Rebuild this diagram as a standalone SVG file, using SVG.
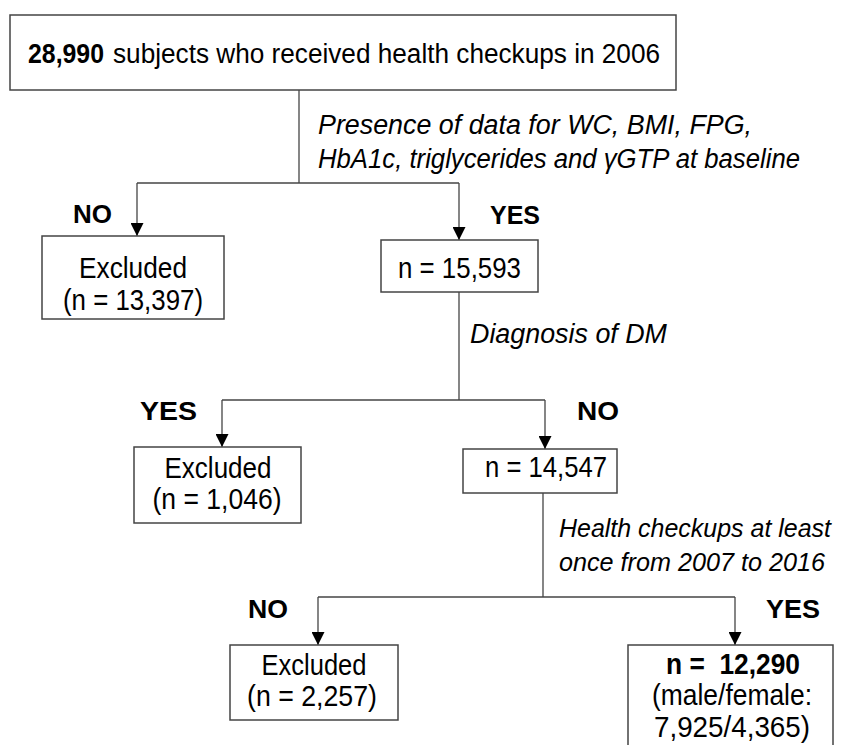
<svg xmlns="http://www.w3.org/2000/svg" width="845" height="745" viewBox="0 0 845 745">
<defs>
<marker id="ah" viewBox="0 0 10 10" refX="10" refY="5" markerWidth="13" markerHeight="13" markerUnits="userSpaceOnUse" orient="auto">
<path d="M0,0 L10,5 L0,10 z" fill="#000"/>
</marker>
<style>
.box{fill:#fff;stroke:#444;stroke-width:1.5}
.t{font-family:"Liberation Sans",Arial,sans-serif;font-size:29px;fill:#000;text-anchor:middle}
.tl{font-family:"Liberation Sans",Arial,sans-serif;font-size:27px;fill:#000}
.lbl{font-family:"Liberation Sans",Arial,sans-serif;font-size:27px;font-style:italic;fill:#000}
.lbs{font-family:"Liberation Sans",Arial,sans-serif;font-size:25px;font-style:italic;fill:#000}
.yn{font-family:"Liberation Sans",Arial,sans-serif;font-size:26px;font-weight:bold;fill:#000}
.ln{fill:none;stroke:#444;stroke-width:1.3}
</style>
</defs>
<rect width="845" height="745" fill="#fff"/>
<g id="connectors">
<path class="ln" d="M299,90 V183"/>
<path class="ln" d="M137,183 H459"/>
<path class="ln" d="M137,183 V236" marker-end="url(#ah)"/>
<path class="ln" d="M459,183 V240" marker-end="url(#ah)"/>
<path class="ln" d="M459,292 V400"/>
<path class="ln" d="M222,400 H545"/>
<path class="ln" d="M222,400 V447" marker-end="url(#ah)"/>
<path class="ln" d="M545,400 V449" marker-end="url(#ah)"/>
<path class="ln" d="M543,493 V597"/>
<path class="ln" d="M318,597 H735"/>
<path class="ln" d="M318,597 V645" marker-end="url(#ah)"/>
<path class="ln" d="M735,597 V645" marker-end="url(#ah)"/>
<text class="lbl" x="318" y="134" textLength="434" lengthAdjust="spacingAndGlyphs">Presence of data for WC, BMI, FPG,</text>
<text class="lbl" x="318" y="168" textLength="482" lengthAdjust="spacingAndGlyphs">HbA1c, triglycerides and γGTP at baseline</text>
<text class="yn" x="73" y="223" textLength="39" lengthAdjust="spacingAndGlyphs">NO</text>
<text class="yn" x="490" y="224" textLength="50" lengthAdjust="spacingAndGlyphs">YES</text>
<text class="lbl" x="470" y="343" textLength="197" lengthAdjust="spacingAndGlyphs">Diagnosis of DM</text>
<text class="yn" x="140" y="420" textLength="57" lengthAdjust="spacingAndGlyphs">YES</text>
<text class="yn" x="577" y="420" textLength="42" lengthAdjust="spacingAndGlyphs">NO</text>
<text class="lbs" x="559" y="537" textLength="272" lengthAdjust="spacingAndGlyphs">Health checkups at least</text>
<text class="lbs" x="559" y="571" textLength="266" lengthAdjust="spacingAndGlyphs">once from 2007 to 2016</text>
<text class="yn" x="248" y="618" textLength="40" lengthAdjust="spacingAndGlyphs">NO</text>
<text class="yn" x="766" y="618" textLength="54" lengthAdjust="spacingAndGlyphs">YES</text>
</g>
<g id="n-start">
<rect class="box" x="10" y="15" width="666" height="75"/>
<text class="tl" x="28" y="63" font-weight="bold" textLength="76" lengthAdjust="spacingAndGlyphs">28,990</text>
<text class="tl" x="113" y="63" textLength="547" lengthAdjust="spacingAndGlyphs">subjects who received health checkups in 2006</text>
</g>
<g id="n-excl1">
<rect class="box" x="42" y="236" width="182" height="83"/>
<text class="t" x="133" y="278" textLength="108" lengthAdjust="spacingAndGlyphs">Excluded</text>
<text class="t" x="133" y="310" textLength="140" lengthAdjust="spacingAndGlyphs">(n = 13,397)</text>
</g>
<g id="n-15593">
<rect class="box" x="381" y="240" width="157" height="52"/>
<text class="t" x="459.5" y="278" textLength="123" lengthAdjust="spacingAndGlyphs">n = 15,593</text>
</g>
<g id="n-excl2">
<rect class="box" x="134" y="447" width="167" height="76"/>
<text class="t" x="218" y="478" textLength="107" lengthAdjust="spacingAndGlyphs">Excluded</text>
<text class="t" x="217" y="509" textLength="129" lengthAdjust="spacingAndGlyphs">(n = 1,046)</text>
</g>
<g id="n-14547">
<rect class="box" x="463" y="449" width="154" height="44"/>
<text class="t" x="546" y="477" textLength="122" lengthAdjust="spacingAndGlyphs">n = 14,547</text>
</g>
<g id="n-excl3">
<rect class="box" x="230" y="645" width="168" height="75"/>
<text class="t" x="314" y="675" textLength="105" lengthAdjust="spacingAndGlyphs">Excluded</text>
<text class="t" x="312" y="706" textLength="130" lengthAdjust="spacingAndGlyphs">(n = 2,257)</text>
</g>
<g id="n-final">
<rect class="box" x="628" y="645" width="205" height="105"/>
<text class="t" x="733" y="674" font-weight="bold" xml:space="preserve" textLength="134" lengthAdjust="spacingAndGlyphs">n =  12,290</text>
<text class="t" x="732" y="705" textLength="160" lengthAdjust="spacingAndGlyphs">(male/female:</text>
<text class="t" x="732" y="737" textLength="156" lengthAdjust="spacingAndGlyphs">7,925/4,365)</text>
</g>
</svg>
